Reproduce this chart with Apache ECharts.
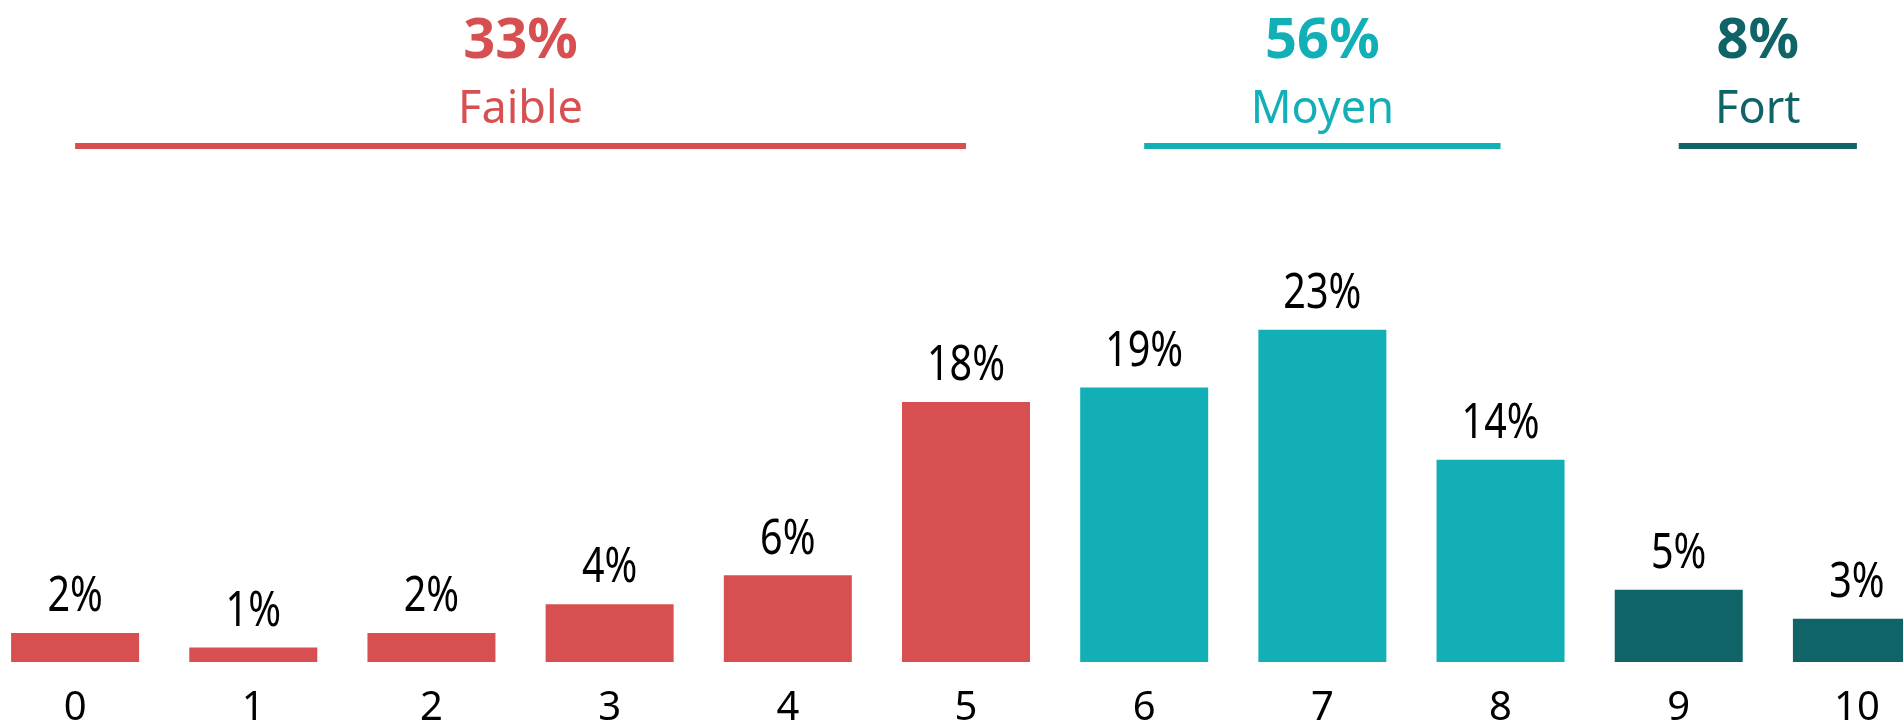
<!DOCTYPE html>
<html>
<head>
<meta charset="utf-8">
<style>
  html, body { margin: 0; padding: 0; background: #ffffff; }
  #chart { width: 1903px; height: 722px; }
</style>
<script src="https://cdn.jsdelivr.net/npm/echarts@6/dist/echarts.min.js"></script>
</head>
<body>
<div id="chart"></div>
<script>
// Score distribution (0–10) with grouped shares
const categories = ['0', '1', '2', '3', '4', '5', '6', '7', '8', '9', '10'];
const values = [2, 1, 2, 4, 6, 18, 19, 23, 14, 5, 3];

const groupNames = ['Faible', 'Moyen', 'Fort'];
const groupShares = [33, 56, 8];
const groupFirst = [0, 6, 9];
const groupLast = [5, 8, 10];
const groupColors = ['#D84F51', '#13AFB7', '#106467'];

const BASE_FONT = "'Noto Sans', 'DejaVu Sans', sans-serif";

function groupOf(i) {
  for (let g = 0; g < groupFirst.length; g++) {
    if (i >= groupFirst[g] && i <= groupLast[g]) return g;
  }
  return 0;
}

const chart = echarts.init(document.getElementById('chart'), null, { renderer: 'canvas' });

chart.setOption({
  animation: false,
  backgroundColor: '#ffffff',
  grid: {
    left: -14, right: -43, top: 84, bottom: 60,
    containLabel: false,
    outerBoundsMode: 'none'
  },
  xAxis: {
    type: 'category',
    data: categories,
    axisLine: { show: false },
    axisTick: { show: false },
    axisLabel: {
      color: '#000000',
      fontFamily: BASE_FONT,
      fontSize: 40,
      margin: 27
    }
  },
  yAxis: {
    type: 'value',
    min: 0,
    max: 40,
    show: false,
    splitLine: { show: false }
  },
  series: [{
    type: 'bar',
    barWidth: 128,
    data: values.map((v, i) => ({
      value: v,
      itemStyle: { color: groupColors[groupOf(i)] }
    }))
  }, {
    // value labels above each bar, set in a narrowed face
    type: 'custom',
    data: values.map((v, i) => [i, v]),
    encode: { x: 0, y: 1 },
    silent: true,
    z: 5,
    renderItem: function (params, api) {
      const pt = api.coord([api.value(0), api.value(1)]);
      return {
        type: 'text',
        x: pt[0],
        y: pt[1] - 11,
        scaleX: 0.79,
        style: {
          text: api.value(1) + '%',
          fill: '#000000',
          font: '50px ' + BASE_FONT,
          textAlign: 'center',
          textVerticalAlign: 'bottom'
        }
      };
    }
  }]
});

// Group headers: share, name and a rule spanning the group's categories
function drawHeaders() {
  const elements = [];
  const textShift = [0, 0, -10];
  for (let g = 0; g < groupNames.length; g++) {
    const x1 = chart.convertToPixel({ xAxisIndex: 0 }, groupFirst[g]);
    const x2 = chart.convertToPixel({ xAxisIndex: 0 }, groupLast[g]);
    const cx = (x1 + x2) / 2 + textShift[g];
    elements.push({
      type: 'line',
      shape: { x1: x1, y1: 146, x2: x2, y2: 146 },
      style: { stroke: groupColors[g], lineWidth: 6 }
    });
    elements.push({
      type: 'text',
      x: cx,
      y: 42,
      style: {
        text: groupShares[g] + '%',
        fill: groupColors[g],
        font: 'bold 56px ' + BASE_FONT,
        textAlign: 'center',
        textVerticalAlign: 'middle'
      }
    });
    elements.push({
      type: 'text',
      x: cx,
      y: 110,
      style: {
        text: groupNames[g],
        fill: groupColors[g],
        font: '45px ' + BASE_FONT,
        textAlign: 'center',
        textVerticalAlign: 'middle'
      }
    });
  }
  chart.setOption({ graphic: elements });
}
drawHeaders();
</script>
</body>
</html>
